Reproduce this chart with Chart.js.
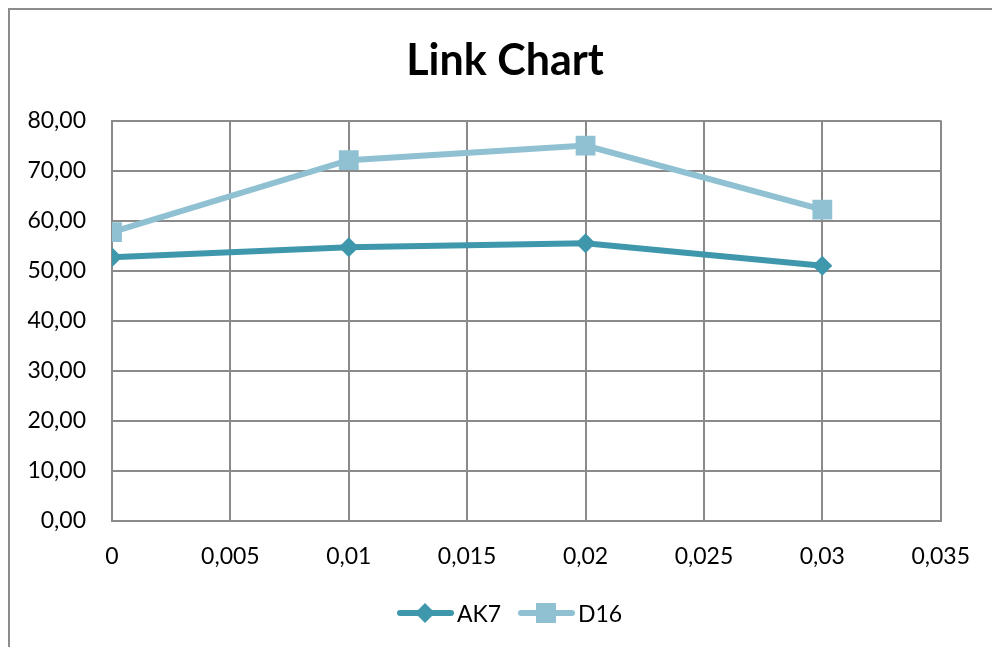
<!DOCTYPE html>
<html>
<head>
<meta charset="utf-8">
<script src="https://cdn.jsdelivr.net/npm/chart.js@4/dist/chart.umd.min.js"></script>
<style>
  html, body { margin: 0; padding: 0; background: #fff; overflow: hidden; }
  #wrap { position: relative; width: 992px; height: 647px; }
  #frame { position: absolute; left: 8px; top: 8px; width: 1100px; height: 800px;
           border: 2px solid #8c8c8c; box-sizing: border-box; }
  #myChart { position: absolute; left: 0; top: 0; }
  #legend { position: absolute; top: 598px; left: 0; width: 992px; height: 30px;
            font-family: Lato, sans-serif; font-size: 23px; color: #000; }
  .item { position: absolute; top: 0; height: 30px; line-height: 30px; }
  .item svg { position: absolute; left: 0; top: 4px; }
  .item span { position: absolute; top: 0; }
</style>
</head>
<body>
<div id="wrap">
  <div id="frame"></div>
  <canvas id="myChart" width="992" height="647"></canvas>
  <div id="legend"></div>
</div>
<script>
// x values (fraction) and the two series
var xValues = [0, 0.01, 0.02, 0.03];
var ak7 = [52.7, 54.7, 55.5, 51.0];
var d16 = [57.7, 72.1, 75.0, 62.2];
var seriesNames = ["AK7", "D16"];
var seriesColors = ["#3f97ac", "#8fc1d3"];

function toPoints(ys) {
    return xValues.map(function (x, i) { return { x: x, y: ys[i] }; });
}
function comma(str) { return str.replace(".", ","); }

var ctx = document.getElementById("myChart").getContext("2d");
var chartObj = new Chart(ctx, {
    type: "scatter",
    data: {
        datasets: [
            {
                label: seriesNames[0],
                data: toPoints(ak7),
                showLine: true,
                borderColor: seriesColors[0],
                backgroundColor: seriesColors[0],
                borderWidth: 6,
                pointStyle: "rectRot",
                pointRadius: 10,
                pointBorderWidth: 0,
                order: 1
            },
            {
                label: seriesNames[1],
                data: toPoints(d16),
                showLine: true,
                borderColor: seriesColors[1],
                backgroundColor: seriesColors[1],
                borderWidth: 6,
                pointStyle: "rect",
                pointRadius: 14,
                pointBorderWidth: 0,
                order: 2
            }
        ]
    },
    options: {
        responsive: false,
        animation: false,
        // left padding shifts the title centre to where the reference has it
        layout: { padding: { left: 18, right: 0, top: 0, bottom: 0 } },
        plugins: {
            legend: { display: false },
            tooltip: { enabled: false },
            title: {
                display: true,
                text: "Link Chart",
                color: "#000",
                font: { family: "Lato", size: 43, weight: "bold", lineHeight: 1.2 },
                padding: { top: 35, bottom: 34 }
            }
        },
        scales: {
            x: {
                type: "linear",
                min: 0,
                max: 0.035,
                ticks: {
                    stepSize: 0.005,
                    color: "#000",
                    padding: 22,
                    font: { family: "Lato", size: 23 },
                    callback: function (v) { return comma(String(Number(v.toFixed(3)))); }
                },
                grid: { color: "#8a8a8a", lineWidth: 2, drawTicks: false },
                border: { color: "#8a8a8a", width: 2 },
                afterFit: function (scale) { scale.height = 126; }
            },
            y: {
                min: 0,
                max: 80,
                ticks: {
                    stepSize: 10,
                    color: "#000",
                    padding: 26,
                    font: { family: "Lato", size: 23 },
                    callback: function (v) { return comma(v.toFixed(2)); }
                },
                grid: { color: "#8a8a8a", lineWidth: 2, drawTicks: false },
                border: { color: "#8a8a8a", width: 2 },
                afterFit: function (scale) { scale.width = 94; }
            },
            // empty spacer on the right so the plot ends where the reference does
            spacer: {
                type: "linear",
                position: "right",
                ticks: { display: false },
                grid: { display: false, drawTicks: false },
                border: { display: false },
                afterFit: function (scale) { scale.width = 50; }
            }
        }
    }
});

// legend: line with marker, then the name
var legendEl = document.getElementById("legend");
var legendLeft = [397, 518];
seriesNames.forEach(function (name, i) {
    var item = document.createElement("div");
    item.className = "item";
    item.style.left = legendLeft[i] + "px";
    var marker = i === 0
        ? '<polygon points="28,1 38,11 28,21 18,11" fill="' + seriesColors[i] + '"/>'
        : '<rect x="18" y="1" width="20" height="20" fill="' + seriesColors[i] + '"/>';
    item.innerHTML = '<svg width="57" height="22"><line x1="3" y1="11" x2="54" y2="11" stroke="' +
        seriesColors[i] + '" stroke-width="6" stroke-linecap="round"/>' + marker + '</svg>' +
        '<span style="left:60px">' + name + '</span>';
    legendEl.appendChild(item);
});
</script>
</body>
</html>
